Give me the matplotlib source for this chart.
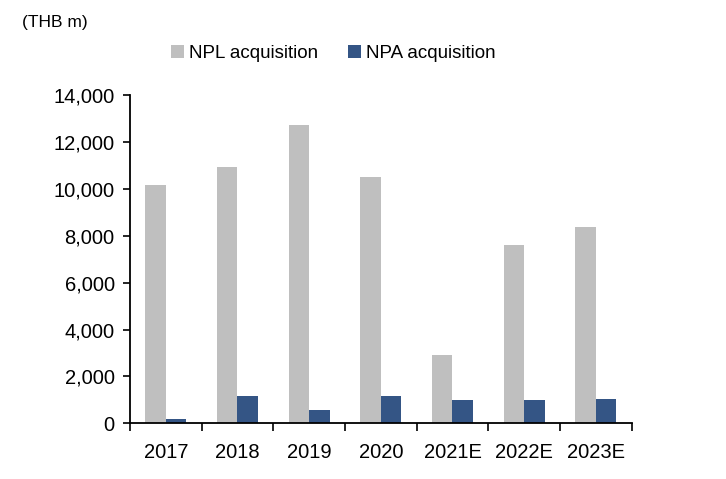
import matplotlib
matplotlib.use("Agg")
import matplotlib.pyplot as plt
import numpy as np
from matplotlib.ticker import FuncFormatter, FixedLocator

years = ["2017", "2018", "2019", "2020", "2021E", "2022E", "2023E"]
npl = [10170, 10940, 12730, 10510, 2900, 7610, 8380]
npa = [190, 1160, 560, 1160, 990, 990, 1050]

plt.rcParams["font.family"] = ["Liberation Sans", "DejaVu Sans"]
plt.rcParams["font.size"] = 13.5

fig = plt.figure(figsize=(7.26, 4.79), dpi=100)
ax = fig.add_axes([0.179, 0.1163, 0.691, 0.685])

x = np.arange(len(years))
w = 0.285
ax.bar(x - w / 2, npl, w, color="#bfbfbf", label="NPL acquisition")
ax.bar(x + w / 2, npa, w, color="#345585", label="NPA acquisition")

ax.set_xlim(-0.5, len(years) - 0.5)
ax.set_ylim(0, 14000)
ax.set_yticks(range(0, 14001, 2000))
ax.yaxis.set_major_formatter(FuncFormatter(lambda v, p: f"{int(v):,}"))
ax.set_xticks(x)
ax.set_xticklabels(years)
ax.xaxis.set_minor_locator(FixedLocator(np.arange(-0.5, len(years), 1)))
ax.tick_params(axis="x", which="major", length=0, pad=14, labelsize=14.5)
ax.tick_params(axis="x", which="minor", length=6, width=1.2, direction="out")
ax.tick_params(axis="y", length=5, width=1.2, direction="out", pad=6, labelsize=14.5)

for s in ["top", "right"]:
    ax.spines[s].set_visible(False)
for s in ["left", "bottom"]:
    ax.spines[s].set_linewidth(1.3)

fig.text(0.03, 0.953, "(THB m)", ha="left", va="center", fontsize=12.5)
fig.legend(loc="center", bbox_to_anchor=(0.459, 0.889), ncol=2, frameon=False,
           handlelength=0.7, handleheight=0.7, handletextpad=0.25, columnspacing=1.6)

fig.savefig("out.png", dpi=100)
